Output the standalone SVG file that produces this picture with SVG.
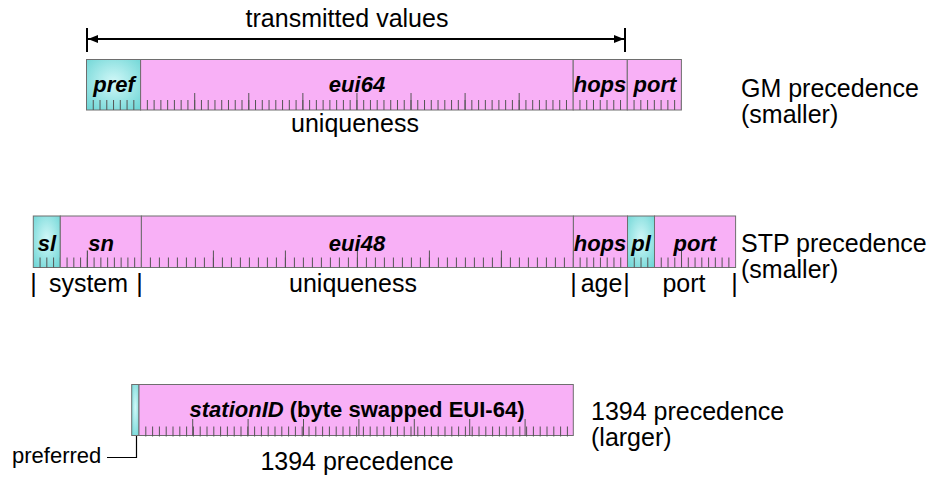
<svg xmlns="http://www.w3.org/2000/svg" width="932" height="477" viewBox="0 0 932 477">
<defs>
<radialGradient id="cy" cx="0.5" cy="0.45" r="0.7">
<stop offset="0" stop-color="#d2f8f8"/>
<stop offset="1" stop-color="#6fd6d6"/>
</radialGradient>
<marker id="ah" viewBox="0 0 10 8" refX="10" refY="4" markerWidth="10" markerHeight="8" markerUnits="userSpaceOnUse" orient="auto-start-reverse">
<path d="M0,0 L10,4 L0,8 z" fill="#000"/>
</marker>
<style>
text{font-family:"Liberation Sans",Arial,Helvetica,sans-serif;fill:#000}
.t{font-size:25px}
.f{font-size:22px;font-weight:bold;font-style:italic;text-anchor:middle}
.m{text-anchor:middle}
.pk{fill:#f8b0f6;stroke:#6e6e6e;stroke-width:1}
.cy{fill:url(#cy);stroke:#6e6e6e;stroke-width:1}
.tk{fill:none;stroke:#555;stroke-width:10}
.tl{fill:none;stroke:#555;stroke-width:17}
.conn{fill:none;stroke:#000;stroke-width:2}
</style>
</defs>
<rect width="932" height="477" fill="#fff"/>

<text class="t m" x="347" y="27">transmitted values</text>

<g id="connectors">
<line class="conn" x1="88" y1="39" x2="624" y2="39" marker-start="url(#ah)" marker-end="url(#ah)"/>
<line class="conn" x1="87" y1="28" x2="87" y2="52"/>
<line class="conn" x1="625" y1="28" x2="625" y2="52"/>
<path d="M107,457.5 H136.5 V435.5" fill="none" stroke="#000" stroke-width="1.2"/>
</g>

<g id="gm-row">
<g id="gm-pref">
<rect class="cy" x="86.5" y="59.5" width="54.1" height="50.5"/>
<line class="tk" x1="92.76" y1="105" x2="140" y2="105" stroke-dasharray="1 5.76"/>
<text class="f" x="114" y="92">pref</text>
</g>
<g id="gm-eui64">
<rect class="pk" x="140.6" y="59.5" width="432.6" height="50.5"/>
<line class="tk" x1="146.86" y1="105" x2="572.5" y2="105" stroke-dasharray="1 5.76"/>
<line class="tl" x1="194.2" y1="101.5" x2="572" y2="101.5" stroke-dasharray="1 53.08"/>
<text class="f" x="357" y="92">eui64</text>
</g>
<g id="gm-hops">
<rect class="pk" x="573.2" y="59.5" width="54.1" height="50.5"/>
<line class="tk" x1="579.46" y1="105" x2="626.8" y2="105" stroke-dasharray="1 5.76"/>
<text class="f" x="600" y="92">hops</text>
</g>
<g id="gm-port">
<rect class="pk" x="627.3" y="59.5" width="54.1" height="50.5"/>
<line class="tk" x1="633.56" y1="105" x2="681" y2="105" stroke-dasharray="1 5.76"/>
<text class="f" x="655" y="92">port</text>
</g>
<text class="t m" x="355" y="132">uniqueness</text>
<text class="t" x="741" y="97">GM precedence</text>
<text class="t" x="741" y="123">(smaller)</text>
</g>

<g id="stp-row">
<g id="stp-sl">
<rect class="cy" x="33.3" y="216" width="27" height="51.5"/>
<line class="tk" x1="39.56" y1="262.5" x2="60" y2="262.5" stroke-dasharray="1 5.76"/>
<text class="f" x="47" y="251">sl</text>
</g>
<g id="stp-sn">
<rect class="pk" x="60.3" y="216" width="81.1" height="51.5"/>
<line class="tk" x1="66.56" y1="262.5" x2="141" y2="262.5" stroke-dasharray="1 5.76"/>
<line class="tl" x1="86.8" y1="259" x2="88" y2="259"/>
<text class="f" x="101" y="251">sn</text>
</g>
<g id="stp-eui48">
<rect class="pk" x="141.4" y="216" width="432" height="51.5"/>
<line class="tk" x1="149.9" y1="262.5" x2="573" y2="262.5" stroke-dasharray="1 8"/>
<line class="tl" x1="212.9" y1="259" x2="573" y2="259" stroke-dasharray="1 71"/>
<text class="f" x="357" y="251">eui48</text>
</g>
<g id="stp-hops">
<rect class="pk" x="573.4" y="216" width="54.1" height="51.5"/>
<line class="tk" x1="579.66" y1="262.5" x2="627" y2="262.5" stroke-dasharray="1 5.76"/>
<text class="f" x="600" y="251">hops</text>
</g>
<g id="stp-pl">
<rect class="cy" x="627.5" y="216" width="27" height="51.5"/>
<line class="tk" x1="633.76" y1="262.5" x2="654" y2="262.5" stroke-dasharray="1 5.76"/>
<text class="f" x="641" y="251">pl</text>
</g>
<g id="stp-port">
<rect class="pk" x="654.5" y="216" width="81.1" height="51.5"/>
<line class="tk" x1="660.76" y1="262.5" x2="735" y2="262.5" stroke-dasharray="1 5.76"/>
<line class="tl" x1="681" y1="259" x2="682" y2="259"/>
<text class="f" x="695" y="251">port</text>
</g>
<text class="t m" x="33.5" y="292">|</text>
<text class="t m" x="88.5" y="292">system</text>
<text class="t m" x="139.5" y="292">|</text>
<text class="t m" x="353" y="292">uniqueness</text>
<text class="t m" x="573.5" y="292">|</text>
<text class="t m" x="601.5" y="292">age</text>
<text class="t m" x="626.5" y="292">|</text>
<text class="t m" x="684" y="292">port</text>
<text class="t m" x="734.5" y="292">|</text>
<text class="t" x="741" y="251.5">STP precedence</text>
<text class="t" x="741" y="278">(smaller)</text>
</g>

<g id="r1394-row">
<g id="r1394-pref">
<rect class="cy" x="131.7" y="384.5" width="7.3" height="51"/>
</g>
<g id="r1394-station">
<rect class="pk" x="139" y="384.5" width="434.3" height="51"/>
<line class="tk" x1="145.3" y1="431.5" x2="572.5" y2="431.5" stroke-width="7" stroke-dasharray="1 5.8"/>
<line class="tl" x1="192.2" y1="427.5" x2="572" y2="427.5" stroke-width="16" stroke-dasharray="1 54.4"/>
<text x="357" y="417" style="font-size:22px;font-weight:bold;text-anchor:middle"><tspan font-style="italic">stationID</tspan> (byte swapped EUI-64)</text>
</g>
<text class="t" x="591" y="420">1394 precedence</text>
<text class="t" x="591" y="446">(larger)</text>
<text class="t m" x="357" y="470">1394 precedence</text>
<text x="12" y="463" style="font-size:22px">preferred</text>
</g>
</svg>
